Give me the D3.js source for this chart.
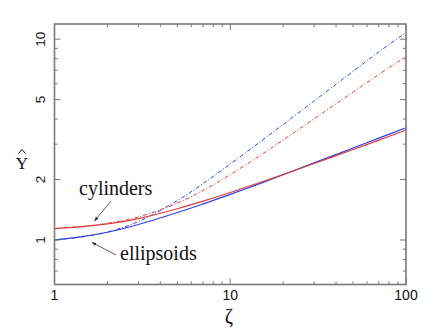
<!DOCTYPE html>
<html><head><meta charset="utf-8">
<script src="https://cdn.jsdelivr.net/npm/d3@7"></script>
<style>html,body{margin:0;padding:0;background:#fff;}</style>
</head><body>
<script>
// ---- data ----
const zeta = [1, 1.5, 2, 3, 5, 7, 10, 15, 20, 30, 50, 70, 100];
const cylSolid   = [1.14, 1.168, 1.202, 1.278, 1.43, 1.561, 1.724, 1.943, 2.118, 2.402, 2.821, 3.142, 3.529];
const ellSolid   = [1.00, 1.046, 1.092, 1.194, 1.370, 1.511, 1.687, 1.920, 2.112, 2.419, 2.872, 3.214, 3.622];
const cylDashDot = [1.14, 1.173, 1.211, 1.302, 1.526, 1.764, 2.115, 2.655, 3.146, 4.012, 5.452, 6.671, 8.19];
const ellDashDot = [1.00, 1.041, 1.094, 1.235, 1.570, 1.909, 2.390, 3.110, 3.761, 4.924, 6.918, 8.638, 10.78];
const xTickLabels = [1, 10, 100];
const yTickLabels = [1, 2, 5, 10];
const xMinorTicks = [2,3,4,5,6,7,8,9,20,30,40,50,60,70,80,90];
const yMinorTicks = [0.7,0.8,0.9,3,4,6,7,8,9];

const W = 447, H = 333;
const red = "#dc3c3c", blue = "#3040e0", frameCol = "#7a7a7a";
const serif = "'Liberation Serif', 'Times New Roman', 'DejaVu Serif', serif";
const sans = "'Liberation Sans', Arial, sans-serif";

const svg = d3.select("body").append("svg").attr("width", W).attr("height", H);

const x = d3.scaleLog().domain([1, 100]).range([54.5, 406]);
const y = d3.scaleLog().domain([0.6, 11.9]).range([284.5, 24]);

const [x0, x1] = x.range(), [y0, y1] = y.range();

// arrowhead
svg.append("defs").append("marker")
  .attr("id", "ah").attr("viewBox", "0 0 10 10").attr("refX", 9).attr("refY", 5)
  .attr("markerWidth", 6).attr("markerHeight", 6).attr("orient", "auto")
  .append("path").attr("d", "M0,1.5 L10,5 L0,8.5 Z").attr("fill", "#333");

// curves
const line = d3.line().x(d => x(d[0])).y(d => y(d[1])).curve(d3.curveCatmullRom.alpha(0.5));
const series = [
  {v: ellDashDot, c: blue, dash: "4,2,1,2", w: 1},
  {v: cylDashDot, c: red, dash: "4,2,1,2", w: 1},
  {v: ellSolid, c: blue, dash: null, w: 1.2},
  {v: cylSolid, c: red, dash: null, w: 1.2}
];
series.forEach(s => {
  svg.append("path").datum(zeta.map((z, i) => [z, s.v[i]]))
    .attr("d", line).attr("fill", "none").attr("stroke", s.c)
    .attr("stroke-width", s.w).attr("stroke-dasharray", s.dash);
});

// frame with inward ticks on all four sides
const g = svg.append("g");
function tickX(vals, len) {
  vals.forEach(v => {
    g.append("line").attr("x1", x(v)).attr("x2", x(v)).attr("y1", y0).attr("y2", y0 - len)
      .attr("stroke", frameCol).attr("stroke-width", 1);
    g.append("line").attr("x1", x(v)).attr("x2", x(v)).attr("y1", y1).attr("y2", y1 + len)
      .attr("stroke", frameCol).attr("stroke-width", 1);
  });
}
function tickY(vals, len) {
  vals.forEach(v => {
    g.append("line").attr("y1", y(v)).attr("y2", y(v)).attr("x1", x0).attr("x2", x0 + len)
      .attr("stroke", frameCol).attr("stroke-width", 1);
    g.append("line").attr("y1", y(v)).attr("y2", y(v)).attr("x1", x1).attr("x2", x1 - len)
      .attr("stroke", frameCol).attr("stroke-width", 1);
  });
}
tickX(xTickLabels, 6); tickX(xMinorTicks, 3.2);
tickY(yTickLabels, 6); tickY(yMinorTicks, 3.2);

g.append("rect").attr("x", x0).attr("y", y1).attr("width", x1 - x0).attr("height", y0 - y1)
  .attr("fill", "none").attr("stroke", frameCol).attr("stroke-width", 1.6);

// tick labels
svg.selectAll(".xl").data(xTickLabels).enter().append("text")
  .attr("x", d => x(d)).attr("y", 300).attr("text-anchor", "middle")
  .style("font-family", sans).attr("font-size", 14)
  .attr("fill", "#111").text(d => d);
svg.selectAll(".yl").data(yTickLabels).enter().append("text")
  .attr("transform", d => `translate(45,${y(d)}) rotate(-90)`).attr("text-anchor", "middle")
  .style("font-family", sans).attr("font-size", 13.5)
  .attr("fill", "#111").text(d => d);

// axis titles
svg.append("text").attr("x", 229).attr("y", 323).attr("text-anchor", "middle")
  .style("font-family", serif).attr("font-size", 20)
  .attr("fill", "#111").text("ζ");
svg.append("text").attr("x", 22).attr("y", 169).attr("text-anchor", "middle")
  .style("font-family", serif).attr("font-size", 17)
  .attr("fill", "#111").text("\u03A5");
// circumflex hat over the Upsilon
svg.append("path").attr("d", "M18.5,153.5 L22,149.5 L25.5,153.5")
  .attr("fill", "none").attr("stroke", "#111").attr("stroke-width", 1);

// annotations
svg.append("text").attr("x", 79).attr("y", 195).style("font-family", serif).attr("font-size", 20)
  .attr("fill", "#111").text("cylinders");
svg.append("text").attr("x", 120).attr("y", 260).style("font-family", serif).attr("font-size", 20)
  .attr("fill", "#111").text("ellipsoids");
svg.append("line").attr("x1", 111).attr("y1", 201).attr("x2", 94.5).attr("y2", 221)
  .attr("stroke", "#333").attr("stroke-width", 0.8).attr("marker-end", "url(#ah)");
svg.append("line").attr("x1", 116).attr("y1", 255).attr("x2", 92).attr("y2", 242.5)
  .attr("stroke", "#333").attr("stroke-width", 0.8).attr("marker-end", "url(#ah)");
</script>
</body></html>
